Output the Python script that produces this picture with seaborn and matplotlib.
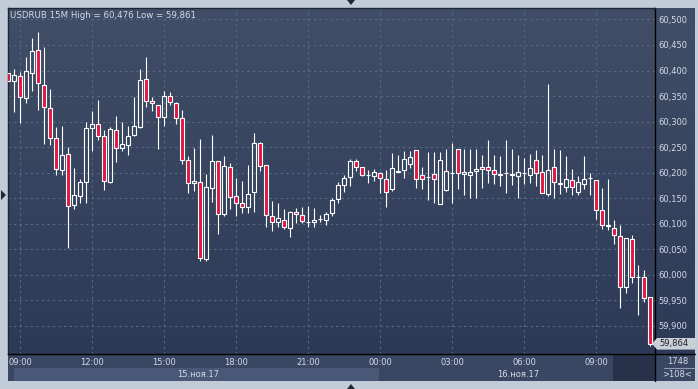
import numpy as np
import pandas as pd
import matplotlib
matplotlib.use("Agg")
import matplotlib.pyplot as plt
import seaborn as sns
from matplotlib.patches import Rectangle, Polygon
from matplotlib.lines import Line2D
from matplotlib.colors import LinearSegmentedColormap
from matplotlib.ticker import FuncFormatter

# ---------------- data (USDRUB, 15-minute candles, 08:30 15 Nov -> 11:15 16 Nov) ----------------
opens = [60.395, 60.379, 60.389, 60.346, 60.395, 60.440, 60.372, 60.326, 60.268, 60.205,
         60.236, 60.136, 60.154, 60.181, 60.287, 60.295, 60.272, 60.181, 60.283, 60.248,
         60.254, 60.274, 60.289, 60.383, 60.340, 60.332, 60.308, 60.351, 60.336, 60.307,
         60.225, 60.179, 60.181, 60.030, 60.170, 60.223, 60.118, 60.210, 60.155, 60.140,
         60.132, 60.161, 60.257, 60.214, 60.114, 60.103, 60.108, 60.091, 60.123, 60.116,
         60.103, 60.104, 60.110, 60.108, 60.120, 60.149, 60.176, 60.192, 60.223, 60.211,
         60.195, 60.194, 60.199, 60.188, 60.168, 60.202, 60.205, 60.217, 60.244, 60.195,
         60.192, 60.197, 60.139, 60.166, 60.200, 60.246, 60.197, 60.195, 60.203, 60.211,
         60.211, 60.206, 60.196, 60.200, 60.196, 60.193, 60.199, 60.196, 60.225, 60.202,
         60.158, 60.210, 60.178, 60.172, 60.186, 60.162, 60.178, 60.190, 60.186, 60.126,
         60.095, 60.092, 60.075, 59.976, 60.069, 59.996, 59.996, 59.957]
highs = [60.398, 60.403, 60.398, 60.427, 60.464, 60.476, 60.447, 60.364, 60.289, 60.292,
         60.251, 60.208, 60.187, 60.300, 60.321, 60.343, 60.283, 60.290, 60.311, 60.300,
         60.291, 60.349, 60.403, 60.427, 60.349, 60.332, 60.360, 60.358, 60.339, 60.323,
         60.233, 60.249, 60.266, 60.198, 60.273, 60.223, 60.232, 60.218, 60.190, 60.183,
         60.214, 60.277, 60.260, 60.214, 60.144, 60.140, 60.128, 60.125, 60.130, 60.132,
         60.134, 60.131, 60.116, 60.123, 60.150, 60.182, 60.195, 60.227, 60.226, 60.211,
         60.205, 60.207, 60.201, 60.206, 60.239, 60.235, 60.242, 60.242, 60.244, 60.211,
         60.241, 60.241, 60.241, 60.247, 60.257, 60.246, 60.247, 60.247, 60.247, 60.235,
         60.264, 60.234, 60.232, 60.263, 60.246, 60.234, 60.229, 60.237, 60.244, 60.234,
         60.374, 60.247, 60.244, 60.232, 60.207, 60.194, 60.232, 60.200, 60.186, 60.169,
         60.187, 60.107, 60.097, 60.071, 60.077, 60.019, 60.009, 59.957]
lows = [60.375, 60.318, 60.298, 60.336, 60.360, 60.323, 60.256, 60.255, 60.195, 60.195,
        60.053, 60.128, 60.141, 60.141, 60.242, 60.264, 60.166, 60.179, 60.220, 60.242,
        60.234, 60.272, 60.287, 60.328, 60.320, 60.247, 60.292, 60.332, 60.295, 60.216,
        60.160, 60.164, 60.026, 60.026, 60.142, 60.079, 60.114, 60.129, 60.114, 60.121,
        60.120, 60.123, 60.203, 60.093, 60.086, 60.093, 60.089, 60.073, 60.101, 60.101,
        60.094, 60.094, 60.103, 60.098, 60.115, 60.140, 60.162, 60.173, 60.204, 60.194,
        60.179, 60.184, 60.160, 60.132, 60.164, 60.201, 60.189, 60.209, 60.170, 60.168,
        60.147, 60.140, 60.139, 60.164, 60.140, 60.168, 60.156, 60.151, 60.151, 60.170,
        60.180, 60.177, 60.173, 60.160, 60.175, 60.150, 60.177, 60.180, 60.173, 60.160,
        60.154, 60.150, 60.158, 60.161, 60.156, 60.156, 60.167, 60.156, 60.109, 60.090,
        60.088, 60.060, 59.934, 59.964, 59.984, 59.921, 59.946, 59.861]
closes = [60.379, 60.391, 60.348, 60.399, 60.438, 60.375, 60.328, 60.268, 60.207, 60.234,
          60.134, 60.157, 60.181, 60.287, 60.295, 60.272, 60.183, 60.285, 60.248, 60.256,
          60.272, 60.291, 60.381, 60.340, 60.336, 60.308, 60.350, 60.338, 60.307, 60.225,
          60.179, 60.183, 60.032, 60.171, 60.222, 60.118, 60.212, 60.153, 60.140, 60.132,
          60.159, 60.258, 60.213, 60.116, 60.103, 60.111, 60.093, 60.122, 60.119, 60.105,
          60.104, 60.108, 60.110, 60.118, 60.147, 60.176, 60.190, 60.223, 60.211, 60.195,
          60.195, 60.201, 60.190, 60.162, 60.209, 60.204, 60.227, 60.231, 60.188, 60.188,
          60.192, 60.188, 60.225, 60.203, 60.200, 60.199, 60.201, 60.202, 60.207, 60.207,
          60.206, 60.198, 60.197, 60.200, 60.197, 60.202, 60.200, 60.208, 60.200, 60.160,
          60.206, 60.182, 60.180, 60.188, 60.171, 60.182, 60.188, 60.190, 60.126, 60.098,
          60.097, 60.077, 59.976, 60.071, 59.996, 59.996, 59.955, 59.864]

time_tick_idx = [2, 14, 26, 38, 50, 62, 74, 86, 98]
time_labels = ["09:00", "12:00", "15:00", "18:00", "21:00", "00:00", "03:00", "06:00", "09:00"]
price_ticks = [59.90, 59.95, 60.00, 60.05, 60.10, 60.15, 60.20, 60.25, 60.30, 60.35, 60.40, 60.45, 60.50]
date_labels = ["15.ноя.17", "16.ноя.17"]
title_text = "USDRUB 15M High = 60,476 Low = 59,861"
last_price = "59,864"
bars_count = "1748"
visible_count = ">108<"

df = pd.DataFrame({"open": opens, "high": highs, "low": lows, "close": closes})
df["i"] = np.arange(len(df))
df["up"] = df["close"] >= df["open"]
df["body_lo"] = df[["open", "close"]].min(axis=1)
df["body_hi"] = df[["open", "close"]].max(axis=1)

# ---------------- style ----------------
sns.set_style("white")
plt.rcParams["font.family"] = ["DejaVu Sans"]

W, H = 698, 389
def fr(x0, y0, x1, y1):
    return [x0 / W, 1 - y1 / H, (x1 - x0) / W, (y1 - y0) / H]

RED = "#e0173f"
TXT = "#d2dbe8"

fig = plt.figure(figsize=(W / 100, H / 100), dpi=100)
fig.patch.set_facecolor("#c2cbd8")

# gradient background for plot + price axis
bg = fig.add_axes(fr(8, 8, 695, 354))
bg.set_zorder(-2)
grad = np.linspace(0, 1, 256).reshape(-1, 1)
cmap = LinearSegmentedColormap.from_list("bgc", ["#404e67", "#2d3a57"])
bg.imshow(grad, aspect="auto", cmap=cmap, extent=[0, 1, 0, 1])
bg.set_axis_off()

# bottom time panel
def frect(x0, y0, x1, y1, color):
    fig.patches.append(Rectangle((x0 / W, 1 - y1 / H), (x1 - x0) / W, (y1 - y0) / H,
                                 transform=fig.transFigure, facecolor=color,
                                 edgecolor="none", zorder=-3))
frect(8, 354, 695, 381, "#3a4762")
frect(14, 368, 379, 381, "#4a5877")
frect(613, 355, 655, 381, "#27324a")

# main axes
ax = fig.add_axes(fr(8, 8, 655, 354))
ax.set_zorder(1)
ax.set_facecolor("none")
ax.set_xlim(-0.05, 107.78)
ax.set_ylim(59.8445, 60.5225)

ax.set_axisbelow(True)
ax.grid(True, color="#5a6a86", linestyle=(0, (2, 3)), linewidth=0.8)

# wicks (upper and lower segments so hollow bodies stay hollow)
ax.vlines(df["i"], df["body_hi"], df["high"], color="white", linewidth=0.8, zorder=2)
ax.vlines(df["i"], df["low"], df["body_lo"], color="white", linewidth=0.8, zorder=2)

# bodies
face = [("none" if u else RED) for u in df["up"]]
ax.bar(df["i"], df["body_hi"] - df["body_lo"], bottom=df["body_lo"], width=0.7,
       color=face, edgecolor="white", linewidth=0.8, zorder=3)

# axes styling
for s in ["left", "top"]:
    ax.spines[s].set_color("#1e2534")
    ax.spines[s].set_linewidth(1.0)
for s in ["right", "bottom"]:
    ax.spines[s].set_color("black")
    ax.spines[s].set_linewidth(1.0)

ax.yaxis.tick_right()
ax.set_yticks(price_ticks)
ax.yaxis.set_major_formatter(FuncFormatter(lambda v, p: f"{v:.3f}".replace(".", ",")))
ax.set_xticks(time_tick_idx)
ax.set_xticklabels(time_labels)
ax.tick_params(axis="y", length=0, pad=2.2, labelsize=6, labelcolor=TXT)
ax.tick_params(axis="x", length=0, pad=3.0, labelsize=6, labelcolor=TXT)

# extend separator lines
fig.add_artist(Line2D([655 / W, 655 / W], [1 - 354 / H, 1 - 381 / H], color="black", linewidth=1.0))
fig.add_artist(Line2D([655 / W, 695 / W], [1 - 354 / H, 1 - 354 / H], color="black", linewidth=1.0))

# texts
fig.text(10 / W, 1 - 15 / H, title_text, ha="left", va="center", fontsize=6.2, color=TXT)
fig.text(198 / W, 1 - 374.5 / H, date_labels[0], ha="center", va="center", fontsize=6, color=TXT)
fig.text(518 / W, 1 - 374.5 / H, date_labels[1], ha="center", va="center", fontsize=6, color=TXT)
fig.text(678 / W, 1 - 361.5 / H, bars_count, ha="center", va="center", fontsize=6, color=TXT)
fig.add_artist(Line2D([664 / W, 694 / W], [1 - 368 / H, 1 - 368 / H], color="#8d9bb3", linewidth=0.8))
fig.text(677 / W, 1 - 374.5 / H, visible_count, ha="center", va="center", fontsize=6, color=TXT)

# last price tag
tag = [(652, 343.8), (657, 338), (695, 338), (695, 349.6), (657, 349.6)]
fig.patches.append(Polygon([(x / W, 1 - y / H) for x, y in tag], closed=True,
                           transform=fig.transFigure, facecolor="#c9ced7",
                           edgecolor="none", zorder=5))
fig.text(659 / W, 1 - 343.8 / H, last_price, ha="left", va="center", fontsize=6,
         color="#1d2129", zorder=6)

# scroll markers on the frame
def ftri(pts):
    fig.patches.append(Polygon([(x / W, 1 - y / H) for x, y in pts], closed=True,
                               transform=fig.transFigure, facecolor="#1f2636",
                               edgecolor="none", zorder=5))
ftri([(347, 0), (355, 0), (351, 5)])
ftri([(347, 389), (355, 389), (351, 384)])
ftri([(1, 190), (1, 200), (6, 195)])

fig.savefig("out.png", dpi=100)
